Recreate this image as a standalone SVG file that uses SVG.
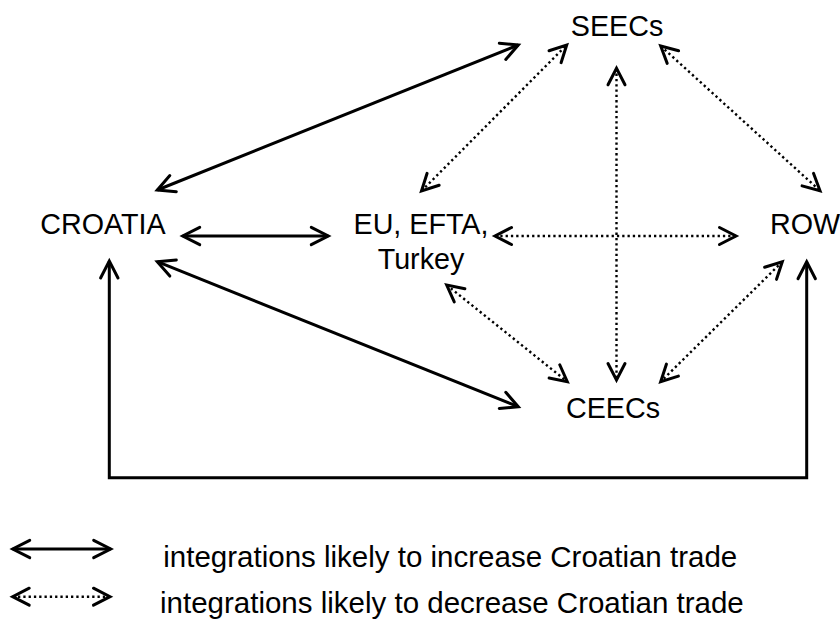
<svg xmlns="http://www.w3.org/2000/svg" width="840" height="619" viewBox="0 0 840 619">
<style>
  text { font-family: "Liberation Sans", Arial, sans-serif; font-size: 28.7px; fill: #000; }
  .leg { font-size: 29.5px; }
  .solid { fill: none; stroke: #000; stroke-width: 3; marker-start: url(#head); marker-end: url(#head); }
  .dot { fill: none; stroke: #000; stroke-width: 2.4; stroke-dasharray: 2.3 3; marker-start: url(#head2); marker-end: url(#head2); }
</style>
<defs>
  <marker id="head" markerUnits="userSpaceOnUse" markerWidth="40" markerHeight="40" viewBox="-20 -20 40 40" refX="0" refY="0" orient="auto-start-reverse" overflow="visible">
    <path d="M -17 -8.7 L 0 0 L -17 8.7" fill="none" stroke="#000" stroke-width="3" stroke-linecap="round" stroke-linejoin="miter"/>
  </marker>
  <marker id="head2" markerUnits="userSpaceOnUse" markerWidth="40" markerHeight="40" viewBox="-20 -20 40 40" refX="0" refY="0" orient="auto-start-reverse" overflow="visible">
    <path d="M -16.5 -8.5 L 0 0 L -16.5 8.5" fill="none" stroke="#000" stroke-width="3" stroke-linecap="round" stroke-linejoin="miter"/>
  </marker>
</defs>

<g id="connectors">
  <line class="solid" x1="157.3" y1="190" x2="518.3" y2="45"/>
  <line class="solid" x1="182.7" y1="236" x2="328.3" y2="236"/>
  <line class="solid" x1="157.3" y1="261.7" x2="518.3" y2="406.7"/>
  <path class="solid" d="M 109.3 261 L 109.3 477.7 L 806.7 477.7 L 806.7 261.7" stroke-width="3.3"/>
  <line class="dot" x1="421.5" y1="191" x2="566.7" y2="45"/>
  <line class="dot" x1="616.5" y1="68.3" x2="616.5" y2="380"/>
  <line class="dot" x1="660.7" y1="46" x2="820" y2="190.7"/>
  <line class="dot" x1="495" y1="236" x2="736" y2="236"/>
  <line class="dot" x1="782.3" y1="261.7" x2="660.7" y2="381.7"/>
  <line class="dot" x1="446.7" y1="285" x2="567.3" y2="381.7"/>
</g>

<g id="croatia"><text x="103" y="234.3" text-anchor="middle">CROATIA</text></g>
<g id="eu"><text x="421" y="234.3" text-anchor="middle">EU, EFTA,</text><text x="421" y="269" text-anchor="middle">Turkey</text></g>
<g id="seecs"><text x="617" y="36" text-anchor="middle">SEECs</text></g>
<g id="row"><text x="770" y="234.3">ROW</text></g>
<g id="ceecs"><text x="613" y="417.7" text-anchor="middle">CEECs</text></g>

<g id="legend">
  <line class="solid" x1="12.7" y1="549" x2="110.7" y2="549"/>
  <line class="dot" x1="12.7" y1="596.7" x2="110" y2="596.7"/>
  <text class="leg" x="163.3" y="566.7">integrations likely to increase Croatian trade</text>
  <text class="leg" x="160" y="613">integrations likely to decrease Croatian trade</text>
</g>
</svg>
